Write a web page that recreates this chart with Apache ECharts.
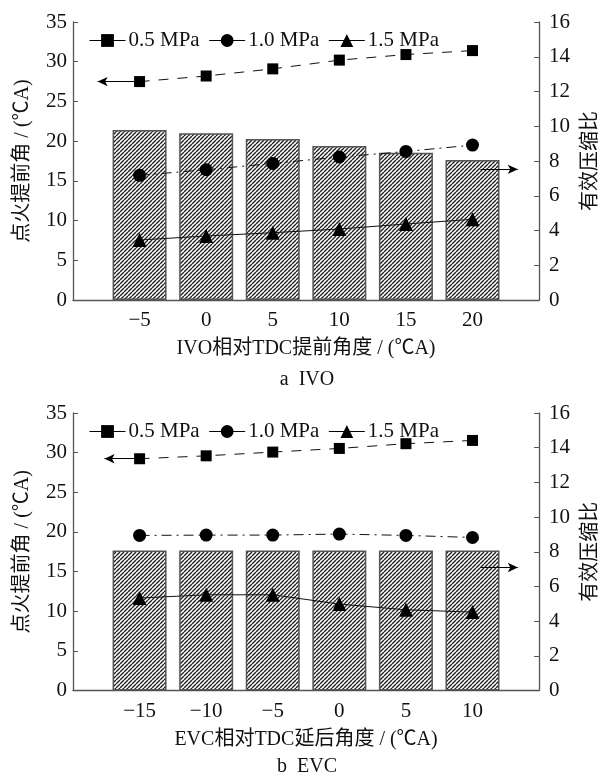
<!DOCTYPE html>
<html>
<head>
<meta charset="utf-8">
<script src="https://cdn.jsdelivr.net/npm/echarts@6/dist/echarts.min.js"></script>
<style>
html,body{margin:0;padding:0;background:#fff;}
#main{width:609px;height:776px;}
</style>
</head>
<body>
<div id="main"></div>
<script>
// ---- data: chart a (IVO) ----
const ivoAngles = [-5, 0, 5, 10, 15, 20];
const ivoRatio = [9.78, 9.59, 9.27, 8.86, 8.48, 8.06];     // 有效压缩比 (bars, right axis)
const ivoP05 = [27.5, 28.2, 29.1, 30.2, 30.9, 31.4];       // 0.5 MPa
const ivoP10 = [15.7, 16.4, 17.2, 18.0, 18.7, 19.5];       // 1.0 MPa
const ivoP15 = [7.55, 8.06, 8.47, 8.94, 9.57, 10.16];      // 1.5 MPa

// ---- data: chart b (EVC) ----
const evcAngles = [-15, -10, -5, 0, 5, 10];
const evcRatio = [8.07, 8.07, 8.07, 8.07, 8.07, 8.07];
const evcP05 = [29.23, 29.6, 30.07, 30.53, 31.13, 31.54];
const evcP10 = [19.56, 19.6, 19.6, 19.73, 19.56, 19.3];
const evcP15 = [11.66, 12.07, 12.07, 10.9, 10.18, 9.89];

const seriesNames = ['0.5 MPa', '1.0 MPa', '1.5 MPa'];
const leftTicks = {min: 0, max: 35, interval: 5};
const rightTicks = {min: 0, max: 16, interval: 2};
const ivoXRange = {min: -10, max: 25, interval: 5};
const evcXRange = {min: -20, max: 15, interval: 5};

// arrow annotations (data units)
const ivoLeftArrowEnd = -8.15;
const ivoRightArrow = {from: 20.6, to: 23.4, y: 7.52};
const evcLeftArrowEnd = -17.63;
const evcRightArrow = {from: 10.64, to: 13.4, y: 7.09};

const FONT = '"Liberation Serif", "Times New Roman", "Noto Sans CJK SC", serif';
const TXT = '#111';
const AX = '#555';
const FS = 21;

// hatch pattern
function hatch() {
  const s = 4;
  const c = document.createElement('canvas');
  c.width = s; c.height = s;
  const ctx = c.getContext('2d');
  ctx.fillStyle = '#fff';
  ctx.fillRect(0, 0, s, s);
  ctx.strokeStyle = '#222';
  ctx.lineWidth = 1.4;
  ctx.beginPath();
  [-s, 0, s].forEach(k => { ctx.moveTo(k, s); ctx.lineTo(k + s, 0); });
  ctx.stroke();
  return c;
}
const pattern = {image: hatch(), repeat: 'repeat'};

const minus = v => String(v).replace('-', '\u2212');

function pairs(xs, ys) { return xs.map((x, i) => [x, ys[i]]); }

function grids() {
  return [
    {left: 73, right: 68, top: 22, height: 278},
    {left: 73, right: 68, top: 413, height: 277.5}
  ];
}

function xAxis(idx, range, name, hideVals) {
  return {
    type: 'value', gridIndex: idx, min: range.min, max: range.max, interval: range.interval,
    name: name, nameLocation: 'middle', nameGap: 39,
    nameTextStyle: {fontFamily: FONT, fontSize: 20, color: TXT},
    axisLine: {show: true, onZero: false, lineStyle: {color: AX, width: 1.3}},
    axisTick: {show: false},
    splitLine: {show: false},
    axisLabel: {
      margin: 10, fontFamily: FONT, fontSize: FS, color: TXT,
      formatter: v => (hideVals.indexOf(v) >= 0 ? '' : minus(v))
    }
  };
}

function yLeft(idx) {
  return {
    type: 'value', gridIndex: idx, position: 'left',
    min: leftTicks.min, max: leftTicks.max, interval: leftTicks.interval,
    name: '点火提前角 / (℃A)', nameLocation: 'middle', nameGap: 40,
    nameTextStyle: {fontFamily: FONT, fontSize: 20, color: TXT},
    axisLine: {show: true, onZero: false, lineStyle: {color: AX, width: 1.3}},
    axisTick: {show: true, inside: true, length: 5, lineStyle: {color: AX}},
    splitLine: {show: false},
    axisLabel: {margin: 6, fontFamily: FONT, fontSize: FS, color: TXT}
  };
}

function yRight(idx) {
  return {
    type: 'value', gridIndex: idx, position: 'right',
    min: rightTicks.min, max: rightTicks.max, interval: rightTicks.interval,
    name: '有效压缩比', nameLocation: 'middle', nameGap: 40,
    nameTextStyle: {fontFamily: FONT, fontSize: 20, color: TXT},
    axisLine: {show: true, onZero: false, lineStyle: {color: AX, width: 1.3}},
    axisTick: {show: true, inside: true, length: 5, lineStyle: {color: AX}},
    splitLine: {show: false},
    axisLabel: {margin: 10, fontFamily: FONT, fontSize: FS, color: TXT}
  };
}

const arrowLine = {
  silent: true, symbol: ['none', 'arrow'], symbolSize: [7, 10],
  lineStyle: {type: 'solid', color: '#000', width: 1},
  label: {show: false}, emphasis: {disabled: true}, animation: false
};

function seriesFor(gi, xs, ratio, p05, p10, p15, leftEnd, rArrow) {
  const xi = gi, yl = gi * 2, yr = gi * 2 + 1;
  return [
    {
      type: 'bar', name: '有效压缩比', xAxisIndex: xi, yAxisIndex: yr,
      data: pairs(xs, ratio), barWidth: 54,
      itemStyle: {color: pattern, borderColor: '#555', borderWidth: 1.5},
      markLine: Object.assign({}, arrowLine, {
        data: [[{coord: [rArrow.from, rArrow.y]}, {coord: [rArrow.to, rArrow.y]}]]
      }),
      z: 1
    },
    {
      type: 'line', name: seriesNames[0], xAxisIndex: xi, yAxisIndex: yl,
      data: pairs(xs, p05), symbol: 'rect', symbolSize: 11,
      itemStyle: {color: '#000'},
      lineStyle: {color: '#111', width: 1, type: [10, 9]},
      markLine: Object.assign({}, arrowLine, {
        data: [[{coord: [xs[0], p05[0]]}, {coord: [leftEnd, p05[0]]}]]
      }),
      z: 3
    },
    {
      type: 'line', name: seriesNames[1], xAxisIndex: xi, yAxisIndex: yl,
      data: pairs(xs, p10), symbol: 'circle', symbolSize: 13,
      itemStyle: {color: '#000'},
      lineStyle: {color: '#111', width: 1, type: [10, 5, 2, 5]},
      z: 3
    },
    {
      type: 'line', name: seriesNames[2], xAxisIndex: xi, yAxisIndex: yl,
      data: pairs(xs, p15), symbol: 'triangle', symbolSize: 14,
      itemStyle: {color: '#000'},
      lineStyle: {color: '#111', width: 1, type: 'solid'},
      z: 3
    }
  ];
}

function legend(top) {
  return {
    data: seriesNames, left: 84, top: top, orient: 'horizontal',
    itemWidth: 36, itemHeight: 16, itemGap: 9, selectedMode: false,
    textStyle: {fontFamily: FONT, fontSize: 21, color: TXT, padding: [0, 0, 0, -2]},
    lineStyle: {type: 'solid', width: 1, color: '#000'}
  };
}

const chart = echarts.init(document.getElementById('main'), null, {renderer: 'canvas'});
chart.setOption({
  animation: false,
  backgroundColor: '#fff',
  grid: grids(),
  legend: [legend(25), legend(416)],
  xAxis: [
    xAxis(0, ivoXRange, 'IVO相对TDC提前角度 / (℃A)', [ivoXRange.min, ivoXRange.max]),
    xAxis(1, evcXRange, 'EVC相对TDC延后角度 / (℃A)', [evcXRange.min, evcXRange.max])
  ],
  yAxis: [yLeft(0), yRight(0), yLeft(1), yRight(1)],
  series: [].concat(
    seriesFor(0, ivoAngles, ivoRatio, ivoP05, ivoP10, ivoP15, ivoLeftArrowEnd, ivoRightArrow),
    seriesFor(1, evcAngles, evcRatio, evcP05, evcP10, evcP15, evcLeftArrowEnd, evcRightArrow)
  ),
  graphic: [
    {type: 'text', x: 307, y: 380, style: {text: 'a  IVO', font: '20px ' + FONT, fill: TXT, textAlign: 'center', textVerticalAlign: 'middle'}},
    {type: 'text', x: 307, y: 767, style: {text: 'b  EVC', font: '20px ' + FONT, fill: TXT, textAlign: 'center', textVerticalAlign: 'middle'}}
  ]
});
</script>
</body>
</html>
